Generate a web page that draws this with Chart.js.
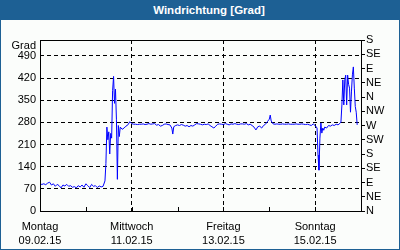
<!DOCTYPE html>
<html>
<head>
<meta charset="utf-8">
<script src="https://cdn.jsdelivr.net/npm/chart.js@4/dist/chart.umd.min.js"></script>
<style>
  body { margin: 0; }
  #box { width: 400px; height: 250px; box-sizing: border-box; border: 1px solid #1d6094; background: #fbfdfb; }
  #head { height: 19px; background: #1d6094; color: #fff; font: bold 11.5px "Liberation Sans", sans-serif; text-align: center; line-height: 19px; padding-left: 18px; }
  canvas { display: block; }
</style>
</head>
<body>
<div id="box">
  <div id="head">Windrichtung [Grad]</div>
  <canvas id="myChart" width="398" height="229"></canvas>
</div>
<script>
// hours since Montag 09.02.15 00:00
const hours = [
  0, 1, 2, 3, 4, 5, 6, 7, 8, 9, 10, 11, 12, 13, 14, 15, 16, 17, 18, 19, 20, 21, 22, 23,
  24, 25, 26, 27, 28, 29, 30, 31, 32, 33,
  34, 34.5, 35, 35.5, 36, 36.5, 37, 37.5, 38, 38.5, 39, 39.5, 40, 40.5, 41, 41.5, 42, 43, 44, 45, 46, 47,
  48, 49, 50, 51, 52, 53, 54, 55, 56, 57, 58, 59, 60, 61, 62, 63, 64, 65, 66, 67, 68, 69, 69.5, 70, 71,
  72, 73, 74, 75, 76, 77, 78, 79, 80, 81, 82, 83, 84, 85, 86, 87, 88, 89, 90, 91, 92, 93, 94, 95,
  96, 97, 98, 99, 100, 101, 102, 103, 104, 105, 106, 107, 108, 109, 110, 111, 112, 113, 114, 115, 116, 117, 118, 119,
  120, 120.5, 121, 122, 123, 124, 125, 126, 127, 128, 129, 130, 131, 132, 133, 134, 135, 136, 137, 138, 139, 140, 141, 142, 143,
  144, 145, 145.5, 146, 146.5, 147, 147.5, 148, 148.5, 149, 150, 151, 152, 153, 154, 155, 156, 157, 157.5,
  158, 158.5, 159, 159.5, 160, 160.5, 161, 161.5, 162, 162.5, 163, 163.5, 164, 164.5, 165, 165.5, 166
];
const degrees = [
  85, 84, 86, 83, 88, 91, 82, 86, 78, 84, 80, 73, 82, 79, 84, 78, 80, 75, 77, 73, 80, 76, 82, 75,
  86, 80, 74, 84, 78, 80, 74, 79, 76, 78,
  95, 150, 265, 225, 250, 180, 245, 230, 380, 425, 340, 385, 290, 100, 270, 235, 265, 258, 262, 268, 272, 282,
  276, 274, 274, 273, 274, 274, 275, 273, 274, 276, 274, 275, 276, 271, 273, 268, 270, 274, 275, 273, 272, 262, 243, 266, 270,
  272, 270, 273, 271, 268, 270, 266, 270, 268, 272, 276, 275, 274, 272, 274, 273, 275, 270, 266, 262, 268, 274, 275, 274,
  273, 276, 274, 272, 275, 274, 276, 274, 273, 275, 275, 274, 276, 272, 274, 270, 265, 256, 266, 268, 262, 270, 274, 282,
  290, 303, 284, 275, 274, 275, 274, 274, 275, 274, 274, 275, 274, 274, 274, 275, 274, 274, 275, 274, 273, 274, 272, 270, 275,
  270, 262, 177, 129, 230, 278, 246, 262, 255, 265, 262, 270, 268, 272, 270, 274, 272, 277, 281,
  335, 414, 335, 414, 429, 335, 429, 400, 388, 312, 376, 430, 455, 388, 330, 312, 272
];

const dayNames = ['Montag', 'Dienstag', 'Mittwoch', 'Donnerstag', 'Freitag', 'Samstag', 'Sonntag', 'Montag'];
const dayDates = ['09.02.15', '10.02.15', '11.02.15', '12.02.15', '13.02.15', '14.02.15', '15.02.15', '16.02.15'];
const labeledDays = [0, 2, 4, 6];
const gradTicks = [0, 70, 140, 210, 280, 350, 420, 490];
const compass = ['N', 'NE', 'E', 'SE', 'S', 'SW', 'W', 'NW', 'N', 'NE', 'E', 'SE', 'S'];
const gradTitlePos = 522;

Chart.defaults.font.family = '"Liberation Sans", sans-serif';
Chart.defaults.font.size = 11;
Chart.defaults.color = '#000';

const framePlugin = {
  id: 'frame',
  afterDraw(chart) {
    const { ctx, chartArea: a, scales } = chart;
    ctx.save();
    ctx.strokeStyle = '#000';
    ctx.lineWidth = 1;
    // small inward day ticks on the bottom axis
    ctx.beginPath();
    for (let d = 1; d < 7; d++) {
      const x = Math.round(scales.x.getPixelForValue(d * 24)) + 0.5;
      ctx.moveTo(x, a.bottom);
      ctx.lineTo(x, a.bottom - 4);
    }
    ctx.stroke();
    ctx.strokeRect(Math.round(a.left) + 0.5, Math.round(a.top) + 0.5,
      Math.round(a.right - a.left), Math.round(a.bottom - a.top));
    ctx.restore();
  }
};

const ctx = document.getElementById('myChart').getContext('2d');
const myChart = new Chart(ctx, {
  type: 'line',
  data: {
    datasets: [{
      data: hours.map((h, i) => ({ x: h, y: degrees[i] })),
      borderColor: '#0000ff',
      borderWidth: 1,
      pointRadius: 0,
      tension: 0
    }]
  },
  options: {
    responsive: false,
    animation: false,
    layout: { padding: { top: 20, left: 0, right: 0, bottom: 0 } },
    plugins: { legend: { display: false }, tooltip: { enabled: false } },
    scales: {
      x: {
        type: 'linear',
        min: 0,
        max: 168,
        afterFit: (scale) => { scale.height = 38; },
        ticks: {
          stepSize: 24,
          autoSkip: false,
          maxRotation: 0,
          padding: 9,
          font: { lineHeight: 1.25 },
          callback: (v) => {
            const d = v / 24;
            return labeledDays.includes(d) ? [dayNames[d], dayDates[d]] : '';
          }
        },
        border: { display: false, dash: [4, 3] },
        grid: {
          drawTicks: false,
          color: (c) => {
            const v = c.tick ? c.tick.value : 0;
            return (v === 48 || v === 96 || v === 144) ? '#000' : 'rgba(0,0,0,0)';
          }
        }
      },
      y: {
        min: 0,
        max: 540,
        afterFit: (scale) => { scale.width = 39; },
        afterBuildTicks: (scale) => {
          scale.ticks = gradTicks.concat([gradTitlePos]).map(v => ({ value: v }));
        },
        ticks: {
          padding: 4,
          autoSkip: false,
          callback: (v) => v === gradTitlePos ? 'Grad' : v
        },
        border: { display: false, dash: [4, 3] },
        grid: {
          drawTicks: false,
          color: (c) => {
            const v = c.tick ? c.tick.value : 0;
            return (v === 0 || v === gradTitlePos) ? 'rgba(0,0,0,0)' : '#000';
          }
        }
      },
      y2: {
        position: 'right',
        min: 0,
        max: 540,
        afterFit: (scale) => { scale.width = 38; },
        afterBuildTicks: (scale) => {
          scale.ticks = compass.map((c, i) => ({ value: i * 45 }));
        },
        ticks: {
          padding: 1,
          autoSkip: false,
          callback: (v) => compass[Math.round(v / 45)]
        },
        border: { display: false },
        grid: {
          drawOnChartArea: false,
          drawTicks: true,
          tickLength: 4,
          tickColor: '#000'
        }
      }
    }
  },
  plugins: [framePlugin]
});
</script>
</body>
</html>
